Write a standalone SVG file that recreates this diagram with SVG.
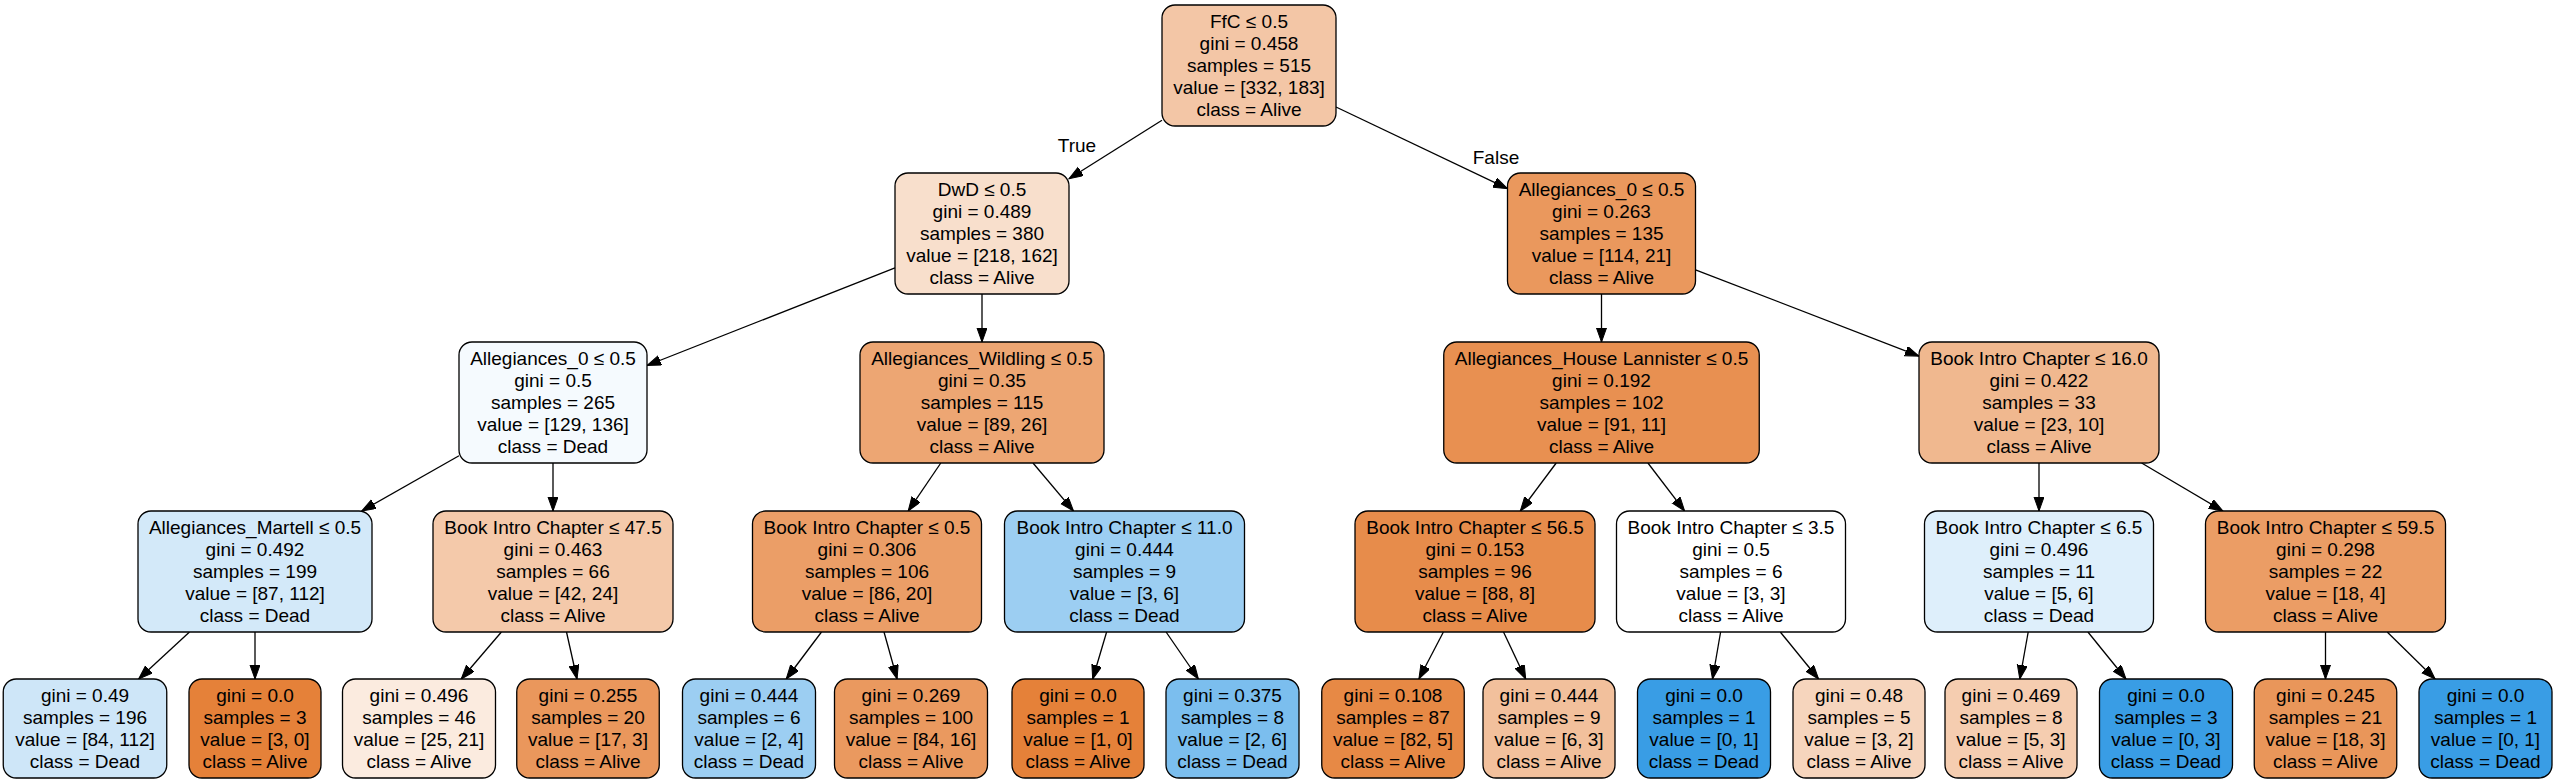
<svg xmlns="http://www.w3.org/2000/svg" width="2558" height="784" viewBox="0 0 2558 784">
<style>
.n rect{stroke:#000;stroke-width:1.3}
text{font-family:"Liberation Sans",Arial,Helvetica,sans-serif;font-size:19px;fill:#000;text-anchor:middle}
.e path{stroke:#000;stroke-width:1.3;fill:none}
</style>
<defs>
<marker id="arr" markerUnits="userSpaceOnUse" markerWidth="15" markerHeight="11" refX="14" refY="5" orient="auto" viewBox="0 0 15 11">
<path d="M0,0 L14,5 L0,10 Z" fill="#000" stroke="#000" stroke-width="1"/>
</marker>
</defs>
<rect width="2558" height="784" fill="#fff"/>
<g id="edges" class="e">
<path d="M1162,120.2 L1069,178.8" marker-end="url(#arr)"/>
<path d="M1336,107 L1507.5,188.7" marker-end="url(#arr)"/>
<path d="M895,267.8 L647,365.5" marker-end="url(#arr)"/>
<path d="M982,294 L982,342" marker-end="url(#arr)"/>
<path d="M1601.5,294 L1601.5,342" marker-end="url(#arr)"/>
<path d="M1695.5,269.8 L1919,356.1" marker-end="url(#arr)"/>
<path d="M459,455.8 L361.7,511" marker-end="url(#arr)"/>
<path d="M553,463 L553,511" marker-end="url(#arr)"/>
<path d="M940.8,463 L908.2,511" marker-end="url(#arr)"/>
<path d="M1033,463 L1073.5,511" marker-end="url(#arr)"/>
<path d="M1556.2,463 L1520.3,511" marker-end="url(#arr)"/>
<path d="M1647.9,463 L1684.6,511" marker-end="url(#arr)"/>
<path d="M2039,463 L2039,511" marker-end="url(#arr)"/>
<path d="M2141.6,463 L2222.9,511" marker-end="url(#arr)"/>
<path d="M189.5,632 L138.6,679" marker-end="url(#arr)"/>
<path d="M255,632 L255,679" marker-end="url(#arr)"/>
<path d="M501.4,632 L461.2,679" marker-end="url(#arr)"/>
<path d="M566.5,632 L577,679" marker-end="url(#arr)"/>
<path d="M821.5,632 L786.2,679" marker-end="url(#arr)"/>
<path d="M884,632 L897.1,679" marker-end="url(#arr)"/>
<path d="M1106.6,632 L1092.7,679" marker-end="url(#arr)"/>
<path d="M1166.1,632 L1198.4,679" marker-end="url(#arr)"/>
<path d="M1443.4,632 L1418.9,679" marker-end="url(#arr)"/>
<path d="M1503.5,632 L1525.7,679" marker-end="url(#arr)"/>
<path d="M1720.6,632 L1712.5,679" marker-end="url(#arr)"/>
<path d="M1780.3,632 L1818.6,679" marker-end="url(#arr)"/>
<path d="M2028.2,632 L2019.8,679" marker-end="url(#arr)"/>
<path d="M2087.9,632 L2126,679" marker-end="url(#arr)"/>
<path d="M2325.5,632 L2325.5,679" marker-end="url(#arr)"/>
<path d="M2387.2,632 L2435.1,679" marker-end="url(#arr)"/>
<text x="1077" y="152">True</text>
<text x="1496" y="164">False</text>
</g>

<g id="node0" class="n"><rect x="1162" y="5" width="174" height="121" rx="13" fill="#f3c6a6"/>
<text x="1249"><tspan x="1249" y="27.5">FfC ≤ 0.5</tspan><tspan x="1249" y="49.5">gini = 0.458</tspan><tspan x="1249" y="71.5">samples = 515</tspan><tspan x="1249" y="93.5">value = [332, 183]</tspan><tspan x="1249" y="115.5">class = Alive</tspan></text></g>

<g id="node1" class="n"><rect x="895" y="173" width="174" height="121" rx="13" fill="#f8dfcc"/>
<text><tspan x="982" y="195.5">DwD ≤ 0.5</tspan><tspan x="982" y="217.5">gini = 0.489</tspan><tspan x="982" y="239.5">samples = 380</tspan><tspan x="982" y="261.5">value = [218, 162]</tspan><tspan x="982" y="283.5">class = Alive</tspan></text></g>

<g id="node2" class="n"><rect x="1507.5" y="173" width="188" height="121" rx="13" fill="#ea985d"/>
<text><tspan x="1601.5" y="195.5">Allegiances_0 ≤ 0.5</tspan><tspan x="1601.5" y="217.5">gini = 0.263</tspan><tspan x="1601.5" y="239.5">samples = 135</tspan><tspan x="1601.5" y="261.5">value = [114, 21]</tspan><tspan x="1601.5" y="283.5">class = Alive</tspan></text></g>

<g id="node3" class="n"><rect x="459" y="342" width="188" height="121" rx="13" fill="#f5fafe"/>
<text><tspan x="553" y="364.5">Allegiances_0 ≤ 0.5</tspan><tspan x="553" y="386.5">gini = 0.5</tspan><tspan x="553" y="408.5">samples = 265</tspan><tspan x="553" y="430.5">value = [129, 136]</tspan><tspan x="553" y="452.5">class = Dead</tspan></text></g>

<g id="node4" class="n"><rect x="860" y="342" width="244" height="121" rx="13" fill="#eda673"/>
<text><tspan x="982" y="364.5">Allegiances_Wildling ≤ 0.5</tspan><tspan x="982" y="386.5">gini = 0.35</tspan><tspan x="982" y="408.5">samples = 115</tspan><tspan x="982" y="430.5">value = [89, 26]</tspan><tspan x="982" y="452.5">class = Alive</tspan></text></g>

<g id="node5" class="n"><rect x="1443.75" y="342" width="315.5" height="121" rx="13" fill="#e89051"/>
<text><tspan x="1601.5" y="364.5">Allegiances_House Lannister ≤ 0.5</tspan><tspan x="1601.5" y="386.5">gini = 0.192</tspan><tspan x="1601.5" y="408.5">samples = 102</tspan><tspan x="1601.5" y="430.5">value = [91, 11]</tspan><tspan x="1601.5" y="452.5">class = Alive</tspan></text></g>

<g id="node6" class="n"><rect x="1919" y="342" width="240" height="121" rx="13" fill="#f0b88f"/>
<text><tspan x="2039" y="364.5">Book Intro Chapter ≤ 16.0</tspan><tspan x="2039" y="386.5">gini = 0.422</tspan><tspan x="2039" y="408.5">samples = 33</tspan><tspan x="2039" y="430.5">value = [23, 10]</tspan><tspan x="2039" y="452.5">class = Alive</tspan></text></g>

<g id="node7" class="n"><rect x="138" y="511" width="234" height="121" rx="13" fill="#d3e9f9"/>
<text><tspan x="255" y="533.5">Allegiances_Martell ≤ 0.5</tspan><tspan x="255" y="555.5">gini = 0.492</tspan><tspan x="255" y="577.5">samples = 199</tspan><tspan x="255" y="599.5">value = [87, 112]</tspan><tspan x="255" y="621.5">class = Dead</tspan></text></g>

<g id="node8" class="n"><rect x="433" y="511" width="240" height="121" rx="13" fill="#f4c9aa"/>
<text><tspan x="553" y="533.5">Book Intro Chapter ≤ 47.5</tspan><tspan x="553" y="555.5">gini = 0.463</tspan><tspan x="553" y="577.5">samples = 66</tspan><tspan x="553" y="599.5">value = [42, 24]</tspan><tspan x="553" y="621.5">class = Alive</tspan></text></g>

<g id="node9" class="n"><rect x="752.5" y="511" width="229" height="121" rx="13" fill="#eb9e67"/>
<text><tspan x="867" y="533.5">Book Intro Chapter ≤ 0.5</tspan><tspan x="867" y="555.5">gini = 0.306</tspan><tspan x="867" y="577.5">samples = 106</tspan><tspan x="867" y="599.5">value = [86, 20]</tspan><tspan x="867" y="621.5">class = Alive</tspan></text></g>

<g id="node10" class="n"><rect x="1004.5" y="511" width="240" height="121" rx="13" fill="#9ccef2"/>
<text><tspan x="1124.5" y="533.5">Book Intro Chapter ≤ 11.0</tspan><tspan x="1124.5" y="555.5">gini = 0.444</tspan><tspan x="1124.5" y="577.5">samples = 9</tspan><tspan x="1124.5" y="599.5">value = [3, 6]</tspan><tspan x="1124.5" y="621.5">class = Dead</tspan></text></g>

<g id="node11" class="n"><rect x="1355" y="511" width="240" height="121" rx="13" fill="#e78c4b"/>
<text><tspan x="1475" y="533.5">Book Intro Chapter ≤ 56.5</tspan><tspan x="1475" y="555.5">gini = 0.153</tspan><tspan x="1475" y="577.5">samples = 96</tspan><tspan x="1475" y="599.5">value = [88, 8]</tspan><tspan x="1475" y="621.5">class = Alive</tspan></text></g>

<g id="node12" class="n"><rect x="1616.5" y="511" width="229" height="121" rx="13" fill="#ffffff"/>
<text><tspan x="1731" y="533.5">Book Intro Chapter ≤ 3.5</tspan><tspan x="1731" y="555.5">gini = 0.5</tspan><tspan x="1731" y="577.5">samples = 6</tspan><tspan x="1731" y="599.5">value = [3, 3]</tspan><tspan x="1731" y="621.5">class = Alive</tspan></text></g>

<g id="node13" class="n"><rect x="1924.5" y="511" width="229" height="121" rx="13" fill="#deeffb"/>
<text><tspan x="2039" y="533.5">Book Intro Chapter ≤ 6.5</tspan><tspan x="2039" y="555.5">gini = 0.496</tspan><tspan x="2039" y="577.5">samples = 11</tspan><tspan x="2039" y="599.5">value = [5, 6]</tspan><tspan x="2039" y="621.5">class = Dead</tspan></text></g>

<g id="node14" class="n"><rect x="2205.5" y="511" width="240" height="121" rx="13" fill="#eb9d65"/>
<text><tspan x="2325.5" y="533.5">Book Intro Chapter ≤ 59.5</tspan><tspan x="2325.5" y="555.5">gini = 0.298</tspan><tspan x="2325.5" y="577.5">samples = 22</tspan><tspan x="2325.5" y="599.5">value = [18, 4]</tspan><tspan x="2325.5" y="621.5">class = Alive</tspan></text></g>

<g id="leaf1" class="n"><rect x="3.25" y="679" width="163.5" height="99" rx="13" fill="#cee6f8"/>
<text><tspan x="85" y="701.5">gini = 0.49</tspan><tspan x="85" y="723.5">samples = 196</tspan><tspan x="85" y="745.5">value = [84, 112]</tspan><tspan x="85" y="767.5">class = Dead</tspan></text></g>

<g id="leaf2" class="n"><rect x="189" y="679" width="132" height="99" rx="13" fill="#e58139"/>
<text><tspan x="255" y="701.5">gini = 0.0</tspan><tspan x="255" y="723.5">samples = 3</tspan><tspan x="255" y="745.5">value = [3, 0]</tspan><tspan x="255" y="767.5">class = Alive</tspan></text></g>

<g id="leaf3" class="n"><rect x="342.5" y="679" width="153" height="99" rx="13" fill="#fbebdf"/>
<text><tspan x="419" y="701.5">gini = 0.496</tspan><tspan x="419" y="723.5">samples = 46</tspan><tspan x="419" y="745.5">value = [25, 21]</tspan><tspan x="419" y="767.5">class = Alive</tspan></text></g>

<g id="leaf4" class="n"><rect x="516.75" y="679" width="142.5" height="99" rx="13" fill="#ea975c"/>
<text><tspan x="588" y="701.5">gini = 0.255</tspan><tspan x="588" y="723.5">samples = 20</tspan><tspan x="588" y="745.5">value = [17, 3]</tspan><tspan x="588" y="767.5">class = Alive</tspan></text></g>

<g id="leaf5" class="n"><rect x="682.5" y="679" width="133" height="99" rx="13" fill="#9ccef2"/>
<text><tspan x="749" y="701.5">gini = 0.444</tspan><tspan x="749" y="723.5">samples = 6</tspan><tspan x="749" y="745.5">value = [2, 4]</tspan><tspan x="749" y="767.5">class = Dead</tspan></text></g>

<g id="leaf6" class="n"><rect x="834.5" y="679" width="153" height="99" rx="13" fill="#ea995f"/>
<text><tspan x="911" y="701.5">gini = 0.269</tspan><tspan x="911" y="723.5">samples = 100</tspan><tspan x="911" y="745.5">value = [84, 16]</tspan><tspan x="911" y="767.5">class = Alive</tspan></text></g>

<g id="leaf7" class="n"><rect x="1012" y="679" width="132" height="99" rx="13" fill="#e58139"/>
<text><tspan x="1078" y="701.5">gini = 0.0</tspan><tspan x="1078" y="723.5">samples = 1</tspan><tspan x="1078" y="745.5">value = [1, 0]</tspan><tspan x="1078" y="767.5">class = Alive</tspan></text></g>

<g id="leaf8" class="n"><rect x="1166" y="679" width="133" height="99" rx="13" fill="#7bbeee"/>
<text><tspan x="1232.5" y="701.5">gini = 0.375</tspan><tspan x="1232.5" y="723.5">samples = 8</tspan><tspan x="1232.5" y="745.5">value = [2, 6]</tspan><tspan x="1232.5" y="767.5">class = Dead</tspan></text></g>

<g id="leaf9" class="n"><rect x="1321.75" y="679" width="142.5" height="99" rx="13" fill="#e78945"/>
<text><tspan x="1393" y="701.5">gini = 0.108</tspan><tspan x="1393" y="723.5">samples = 87</tspan><tspan x="1393" y="745.5">value = [82, 5]</tspan><tspan x="1393" y="767.5">class = Alive</tspan></text></g>

<g id="leaf10" class="n"><rect x="1483" y="679" width="132" height="99" rx="13" fill="#f2c09c"/>
<text><tspan x="1549" y="701.5">gini = 0.444</tspan><tspan x="1549" y="723.5">samples = 9</tspan><tspan x="1549" y="745.5">value = [6, 3]</tspan><tspan x="1549" y="767.5">class = Alive</tspan></text></g>

<g id="leaf11" class="n"><rect x="1637.5" y="679" width="133" height="99" rx="13" fill="#399de5"/>
<text><tspan x="1704" y="701.5">gini = 0.0</tspan><tspan x="1704" y="723.5">samples = 1</tspan><tspan x="1704" y="745.5">value = [0, 1]</tspan><tspan x="1704" y="767.5">class = Dead</tspan></text></g>

<g id="leaf12" class="n"><rect x="1793" y="679" width="132" height="99" rx="13" fill="#f6d5bd"/>
<text><tspan x="1859" y="701.5">gini = 0.48</tspan><tspan x="1859" y="723.5">samples = 5</tspan><tspan x="1859" y="745.5">value = [3, 2]</tspan><tspan x="1859" y="767.5">class = Alive</tspan></text></g>

<g id="leaf13" class="n"><rect x="1945" y="679" width="132" height="99" rx="13" fill="#f5cdb0"/>
<text><tspan x="2011" y="701.5">gini = 0.469</tspan><tspan x="2011" y="723.5">samples = 8</tspan><tspan x="2011" y="745.5">value = [5, 3]</tspan><tspan x="2011" y="767.5">class = Alive</tspan></text></g>

<g id="leaf14" class="n"><rect x="2099.5" y="679" width="133" height="99" rx="13" fill="#399de5"/>
<text><tspan x="2166" y="701.5">gini = 0.0</tspan><tspan x="2166" y="723.5">samples = 3</tspan><tspan x="2166" y="745.5">value = [0, 3]</tspan><tspan x="2166" y="767.5">class = Dead</tspan></text></g>

<g id="leaf15" class="n"><rect x="2254.25" y="679" width="142.5" height="99" rx="13" fill="#e9965a"/>
<text><tspan x="2325.5" y="701.5">gini = 0.245</tspan><tspan x="2325.5" y="723.5">samples = 21</tspan><tspan x="2325.5" y="745.5">value = [18, 3]</tspan><tspan x="2325.5" y="767.5">class = Alive</tspan></text></g>

<g id="leaf16" class="n"><rect x="2419" y="679" width="133" height="99" rx="13" fill="#399de5"/>
<text><tspan x="2485.5" y="701.5">gini = 0.0</tspan><tspan x="2485.5" y="723.5">samples = 1</tspan><tspan x="2485.5" y="745.5">value = [0, 1]</tspan><tspan x="2485.5" y="767.5">class = Dead</tspan></text></g>
</svg>
